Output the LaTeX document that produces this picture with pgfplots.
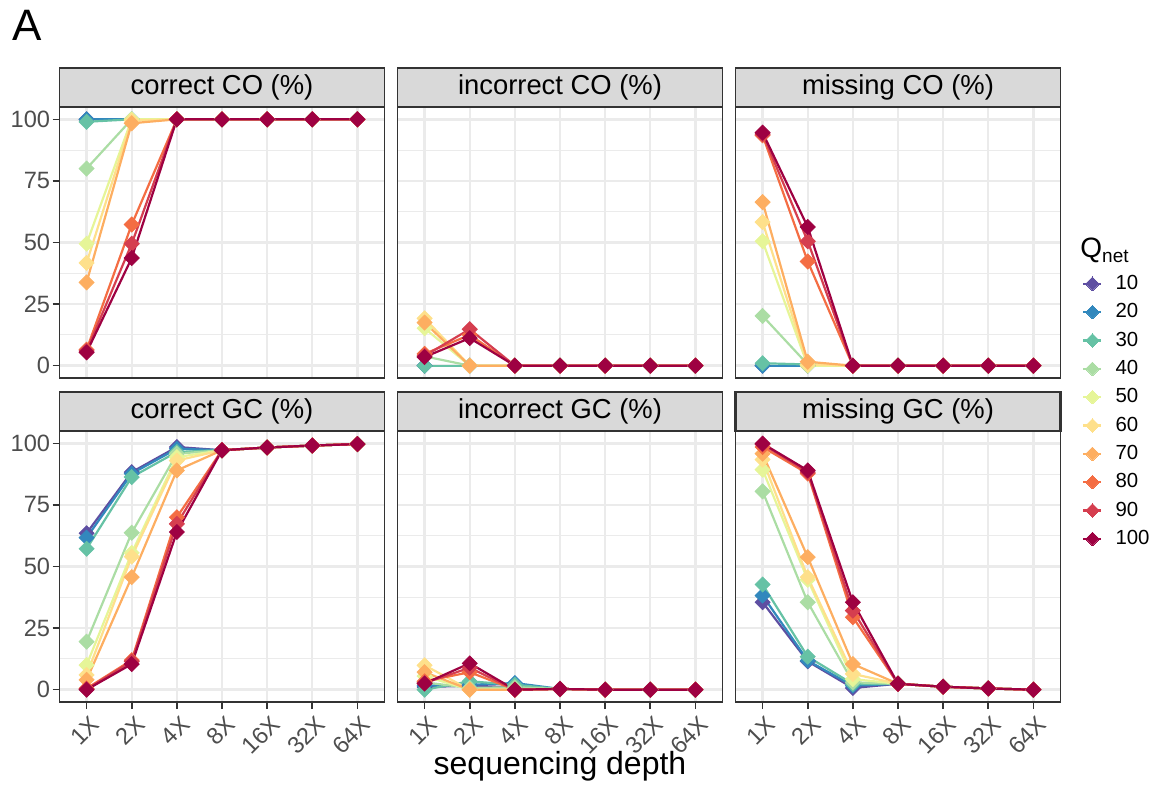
\documentclass[border=0pt]{standalone}
\usepackage{fontspec}
\setmainfont{Liberation Sans}
\usepackage{pgfplots}
\usepackage{pgfplotstable}
\pgfplotsset{compat=1.18}
\usetikzlibrary{calc}

\definecolor{c10}{HTML}{5E4FA2}
\definecolor{c20}{HTML}{3288BD}
\definecolor{c30}{HTML}{66C2A5}
\definecolor{c40}{HTML}{ABDDA4}
\definecolor{c50}{HTML}{E6F598}
\definecolor{c60}{HTML}{FEE08B}
\definecolor{c70}{HTML}{FDAE61}
\definecolor{c80}{HTML}{F46D43}
\definecolor{c90}{HTML}{D53E4F}
\definecolor{c100}{HTML}{9E0142}
\definecolor{gridc}{HTML}{EBEBEB}
\definecolor{g20}{HTML}{333333}
\definecolor{g30}{HTML}{4D4D4D}
\definecolor{g85}{HTML}{D9D9D9}

% correct CO (%)
\pgfplotstableread{
x q10 q20 q30 q40 q50 q60 q70 q80 q90 q100
0 100 100 99 80 49.5 41.7 33.8 6.5 6 5.4
1 100 100 100 100 100 99.5 98.4 57.3 49.5 43.7
2 100 100 100 100 100 100 100 100 100 100
3 100 100 100 100 100 100 100 100 100 100
4 100 100 100 100 100 100 100 100 100 100
5 100 100 100 100 100 100 100 100 100 100
6 100 100 100 100 100 100 100 100 100 100
}\cco
% incorrect CO (%)
\pgfplotstableread{
x q10 q20 q30 q40 q50 q60 q70 q80 q90 q100
0 0 0 0 3.8 15.2 19.2 17.5 4.8 4 3.5
1 0 0 0 0 0 0 0 12.5 14.8 11.2
2 0 0 0 0 0 0 0 0 0 0
3 0 0 0 0 0 0 0 0 0 0
4 0 0 0 0 0 0 0 0 0 0
5 0 0 0 0 0 0 0 0 0 0
6 0 0 0 0 0 0 0 0 0 0
}\ico
% missing CO (%)
\pgfplotstableread{
x q10 q20 q30 q40 q50 q60 q70 q80 q90 q100
0 0 0 1 20.2 50.5 58.3 66.4 93.5 94 94.6
1 0 0 0.5 0.5 0 0.5 1.6 42.3 50.5 56.3
2 0 0 0 0 0 0 0 0 0 0
3 0 0 0 0 0 0 0 0 0 0
4 0 0 0 0 0 0 0 0 0 0
5 0 0 0 0 0 0 0 0 0 0
6 0 0 0 0 0 0 0 0 0 0
}\mco
% correct GC (%)
\pgfplotstableread{
x q10 q20 q30 q40 q50 q60 q70 q80 q90 q100
0 63.5 61.7 57.2 19.5 10 6 4 0.5 0.2 0
1 88.3 87.7 86.3 63.7 55.5 54 45.7 12 11.5 10.4
2 98.5 97.8 96.5 95.8 94.4 93 89 70 67.3 64
3 97.2 97.2 97.2 97.2 97.2 97.2 97.2 97.2 97.2 97.2
4 98.3 98.3 98.3 98.3 98.3 98.3 98.3 98.3 98.3 98.3
5 99.1 99.1 99.1 99.1 99.1 99.1 99.1 99.1 99.1 99.1
6 99.7 99.7 99.7 99.7 99.7 99.7 99.7 99.7 99.7 99.7
}\cgc
% incorrect GC (%)
\pgfplotstableread{
x q10 q20 q30 q40 q50 q60 q70 q80 q90 q100
0 1.1 1.6 0 3 5.5 9.9 7.1 3.4 2.7 2.5
1 1.6 2 3.4 0.7 0 0 0 7.1 8.9 10.7
2 1 2.7 2 1 0 0 0 0 0 0
3 0.3 0.3 0.3 0.3 0.3 0.3 0.3 0.3 0.3 0.3
4 0 0 0 0 0 0 0 0 0 0
5 0 0 0 0 0 0 0 0 0 0
6 0 0 0 0 0 0 0 0 0 0
}\igc
% missing GC (%)
\pgfplotstableread{
x q10 q20 q30 q40 q50 q60 q70 q80 q90 q100
0 35.5 38.2 42.7 80.5 89.3 93.4 95.8 98.5 99.6 99.9
1 11.5 11.8 13.4 35.5 44.6 45.7 53.8 87.7 88.3 89
2 0.7 1.6 2.3 3 4.3 6.4 10.4 29.4 32.1 35.5
3 2.4 2.4 2.4 2.4 2.4 2.4 2.4 2.4 2.4 2.4
4 1.2 1.2 1.2 1.2 1.2 1.2 1.2 1.2 1.2 1.2
5 0.5 0.5 0.5 0.5 0.5 0.5 0.5 0.5 0.5 0.5
6 0 0 0 0 0 0 0 0 0 0
}\mgc

\newcommand\drawseries[1]{%
  \pgfplotsinvokeforeach{10,20,30,40,50,60,70,80,90,100}{%
    \addplot[c##1, line width=1.1pt, no marks] table[x=x,y=q##1]{#1};}%
  \pgfplotsinvokeforeach{10,20,30,40,50,60,70,80,90,100}{%
    \addplot[c##1, only marks, mark=square*, mark size=2.65pt, mark options={rotate=45, fill=c##1, draw=c##1}] table[x=x,y=q##1]{#1};}%
}

\pgfplotsset{
  panel/.style={
    scale only axis, width=162.5pt, height=135.5pt,
    xmin=-0.6, xmax=6.6, ymin=-5, ymax=105,
    axis line style={g20, line width=0.8pt},
    xtick={0,...,6}, ytick={0,25,50,75,100},
    minor ytick={12.5,37.5,62.5,87.5},
    grid=both,
    major grid style={gridc, line width=1.2pt},
    minor grid style={gridc, line width=0.6pt},
    minor tick length=0pt,
    major tick length=3.5pt,
    tick align=outside, xtick pos=bottom, ytick pos=left,
    tick style={g20, line width=0.8pt},
    ticklabel style={font=\fontsize{11.8}{14}\selectfont, text=g30},
    yticklabel style={inner sep=1pt},
    /pgf/number format/assume math mode=true,
    xticklabels={1X,2X,4X,8X,16X,32X,64X},
    xticklabel style={yshift=-2.5pt, rotate=45, anchor=north east, inner sep=1pt, xshift=2pt},
  },
  noxt/.style={xticklabels={}, xtick style={draw=none}},
  noyt/.style={yticklabels={}, ytick style={draw=none}},
}

\newcommand\strip[3][0.8pt]{%
  \draw[fill=g85, draw=g20, line width=#1] (#2.north west) rectangle ++(162.5pt,19.5pt);
  \node[font=\fontsize{13.7}{16}\selectfont, text=black] at ($(#2.north west)+(81.25pt,9.75pt)$) {#3};
}

\begin{document}
\begin{tikzpicture}
\path (0,0) rectangle (582.5pt,-398.5pt);

\begin{axis}[panel, noxt, name=p1, at={(29.75pt,-189pt)}, anchor=south west]
\drawseries{\cco}
\end{axis}
\begin{axis}[panel, noxt, noyt, name=p2, at={(198.75pt,-189pt)}, anchor=south west]
\drawseries{\ico}
\end{axis}
\begin{axis}[panel, noxt, noyt, name=p3, at={(367.75pt,-189pt)}, anchor=south west,
  legend style={at={(1.066,0.4015)}, anchor=north west, draw=none, fill=none,
    inner sep=0pt, row sep=0pt, font=\fontsize{10.2}{12}\selectfont,
    nodes={inner sep=0pt, minimum height=14.17pt}},
  legend cell align=left,
  /tikz/every odd column/.append style={column sep=6.5pt},
  legend image code/.code={%
    \draw[line width=1.1pt] (0pt,0pt) -- (9pt,0pt);
    \draw[line width=0pt, mark=square*, mark size=2.4pt, mark options={rotate=45}] plot coordinates {(4.5pt,0pt)};}]
\drawseries{\mco}
\pgfplotsinvokeforeach{10,20,30,40,50,60,70,80,90,100}{%
  \addlegendimage{c#1, fill=c#1}\addlegendentry{#1}}
\end{axis}

\begin{axis}[panel, name=p4, at={(29.75pt,-351pt)}, anchor=south west]
\drawseries{\cgc}
\end{axis}
\begin{axis}[panel, noyt, name=p5, at={(198.75pt,-351pt)}, anchor=south west]
\drawseries{\igc}
\end{axis}
\begin{axis}[panel, noyt, name=p6, at={(367.75pt,-351pt)}, anchor=south west]
\drawseries{\mgc}
\end{axis}

\strip{p1}{correct CO (\%)}
\strip{p2}{incorrect CO (\%)}
\strip{p3}{missing CO (\%)}
\strip{p4}{correct GC (\%)}
\strip{p5}{incorrect GC (\%)}
\strip[1.2pt]{p6}{missing GC (\%)}

\node[font=\fontsize{16}{19}\selectfont, text=black] at (280pt,-383pt) {sequencing depth};
\node[font=\fontsize{22}{26}\selectfont, anchor=north west, inner sep=0pt] at (6pt,-5pt) {A};
\node[anchor=base west, inner sep=0pt] at (540pt,-128.5pt)
  {{\fontsize{14}{16}\selectfont Q}\raisebox{-2.5pt}{\fontsize{9.5}{11}\selectfont net}};

\pgfresetboundingbox
\path (0,0) rectangle (582.5pt,-398.5pt);
\end{tikzpicture}
\end{document}
